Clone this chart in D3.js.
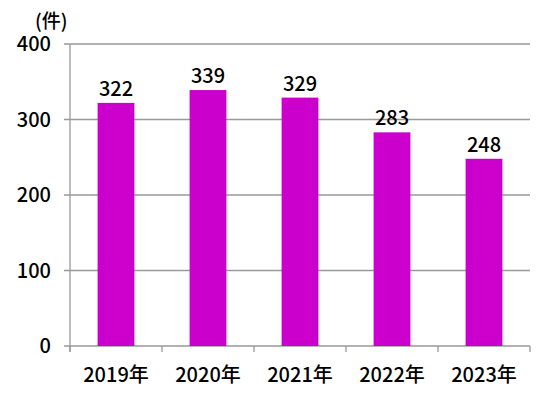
<!DOCTYPE html>
<html>
<head>
<meta charset="utf-8">
<script src="https://cdn.jsdelivr.net/npm/d3@7"></script>
<style>
  html, body { margin: 0; padding: 0; background: #fff; }
  svg text { font-family: "Noto Sans CJK JP", "Noto Sans", sans-serif; fill: #000; font-weight: 500; }
</style>
</head>
<body>
<div id="chart"></div>
<script>
// Yearly counts (件), 2019–2023
const years = ['2019年', '2020年', '2021年', '2022年', '2023年'];
const counts = [322, 339, 329, 283, 248];
const yTicks = [0, 100, 200, 300, 400];

const W = 543, H = 397;
const margin = { top: 44, right: 13, bottom: 51, left: 70 };
const innerW = W - margin.left - margin.right;
const innerH = H - margin.top - margin.bottom;
const fs = '20px';

const svg = d3.select('#chart').append('svg')
  .attr('width', W).attr('height', H);
const g = svg.append('g').attr('transform', `translate(${margin.left},${margin.top})`);

const x = d3.scaleBand().domain(years).range([0, innerW]).paddingInner(0.6).paddingOuter(0.3);
const y = d3.scaleLinear().domain([0, 400]).range([innerH, 0]);

// gridlines + left ticks
g.append('g').selectAll('line').data(yTicks).join('line')
  .attr('x1', -6).attr('x2', innerW)
  .attr('y1', (d) => y(d)).attr('y2', (d) => y(d))
  .style('stroke', '#999').attr('stroke-width', 1.3);

g.append('g').selectAll('text').data(yTicks).join('text')
  .attr('x', -19).attr('y', (d) => y(d)).attr('dy', '0.36em')
  .attr('text-anchor', 'end')
  .style('font-size', fs)
  .text((d) => d);

// y axis line
g.append('line')
  .attr('x1', 0).attr('x2', 0).attr('y1', 0).attr('y2', innerH + 6)
  .style('stroke', '#999').attr('stroke-width', 1.3);

// category boundary ticks
const step = innerW / years.length;
g.append('g').selectAll('line').data(d3.range(years.length + 1)).join('line')
  .attr('x1', (i) => i * step).attr('x2', (i) => i * step)
  .attr('y1', innerH).attr('y2', innerH + 6)
  .style('stroke', '#999').attr('stroke-width', 1.3);

// bars
g.append('g').selectAll('rect').data(counts).join('rect')
  .attr('x', (d, i) => x(years[i]))
  .attr('y', (d) => y(d))
  .attr('width', x.bandwidth())
  .attr('height', (d) => innerH - y(d))
  .style('fill', '#cc00cc');

// value labels
g.append('g').selectAll('text').data(counts).join('text')
  .attr('x', (d, i) => x(years[i]) + x.bandwidth() / 2)
  .attr('y', (d) => y(d) - 7)
  .attr('text-anchor', 'middle')
  .style('font-size', fs)
  .text((d) => d);

// category labels
g.append('g').selectAll('text').data(years).join('text')
  .attr('x', (d) => x(d) + x.bandwidth() / 2)
  .attr('y', innerH + 36)
  .attr('text-anchor', 'middle')
  .style('font-size', fs)
  .text((d) => d);

// unit label
svg.append('text')
  .attr('x', 35).attr('y', 28)
  .style('font-size', '19px')
  .text('(件)');
</script>
</body>
</html>
